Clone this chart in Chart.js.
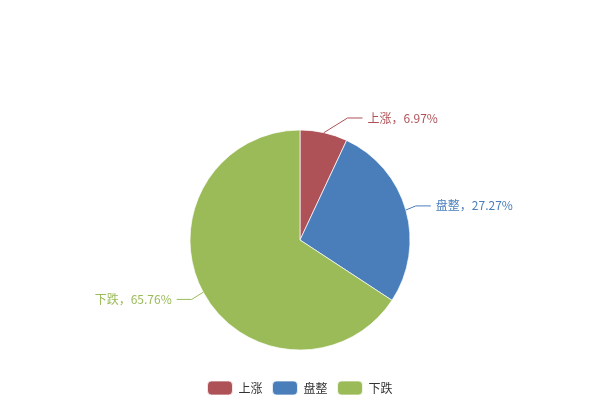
<!DOCTYPE html>
<html>
<head>
<meta charset="utf-8">
<script src="https://cdn.jsdelivr.net/npm/chart.js@4"></script>
<style>
  html, body { margin: 0; padding: 0; background: #fff; }
  canvas { display: block; }
</style>
</head>
<body>
<canvas id="pie" width="600" height="400"></canvas>
<script>
"use strict";

// ── Data ───────────────────────────────────────────────────────────────────
const categories = ["上涨", "盘整", "下跌"];
const shares     = [6.97, 27.27, 65.76];   // percent
const colors     = ["#ae5257", "#4a7ebb", "#9bbb59"];

const FONT = '"Noto Sans CJK SC", "Microsoft YaHei", sans-serif';

// ── Outside labels with leader lines (echarts-like) ────────────────────────
const pieLabels = {
  id: "pieLabels",
  afterDatasetsDraw(chart) {
    const ctx = chart.ctx;
    const meta = chart.getDatasetMeta(0);
    ctx.save();
    ctx.font = "12px " + FONT;
    ctx.lineWidth = 1;
    meta.data.forEach((arc, i) => {
      const mid = (arc.startAngle + arc.endAngle) / 2;
      const dx = Math.cos(mid), dy = Math.sin(mid);
      const r = arc.outerRadius;
      const sx = arc.x + r * dx, sy = arc.y + r * dy;
      const rise = 15 * dy;
      const side = dx >= 0 ? 1 : -1;
      const run = Math.max(Math.abs(rise) / 0.62, 10);
      const ex = sx + side * run, ey = sy + rise;
      const tx = ex + side * 15;
      ctx.strokeStyle = colors[i];
      ctx.beginPath();
      ctx.moveTo(sx, sy);
      ctx.lineTo(ex, ey);
      ctx.lineTo(tx, ey);
      ctx.stroke();
      ctx.fillStyle = colors[i];
      ctx.textBaseline = "middle";
      ctx.textAlign = side > 0 ? "left" : "right";
      ctx.fillText(categories[i] + "，" + shares[i].toFixed(2) + "%", tx + side * 5, ey);
    });
    ctx.restore();
  },
};

// ── Chart ──────────────────────────────────────────────────────────────────
new Chart(document.getElementById("pie").getContext("2d"), {
  type: "pie",
  data: {
    labels: categories,
    datasets: [{
      data: shares,
      backgroundColor: colors,
      borderColor: "rgba(255,255,255,0.7)",
      borderWidth: 1,
      radius: 110,
    }],
  },
  options: {
    responsive: false,
    animation: false,
    layout: { padding: { top: 109, bottom: -5 } },
    plugins: {
      tooltip: { enabled: false },
      legend: {
        position: "bottom",
        labels: {
          boxWidth: 25,
          boxHeight: 14,
          useBorderRadius: true,
          borderRadius: 4,
          padding: 10,
          color: "#333",
          font: { family: FONT, size: 12 },
        },
      },
    },
  },
  plugins: [pieLabels],
});
</script>
</body>
</html>
